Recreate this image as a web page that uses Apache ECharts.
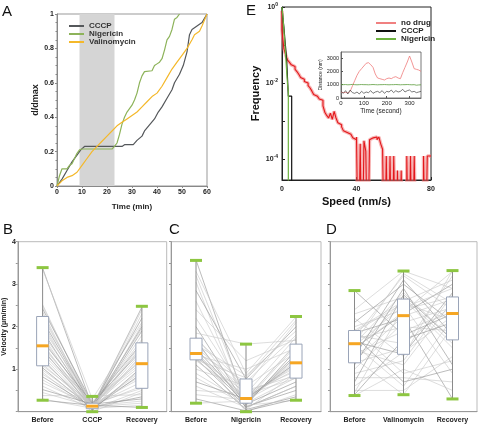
<!DOCTYPE html>
<html><head><meta charset="utf-8">
<script src="https://cdn.jsdelivr.net/npm/echarts@6/dist/echarts.min.js"></script>
<style>html,body{margin:0;padding:0;background:#fff}#c{width:481px;height:426px}</style>
</head><body><div id="c"></div>
<script>
// ---------- Panel A : d/dmax vs time ----------
const aCCCP_t = [0,2,4,6,8,9.5,11,26,27,30.5,32,34,35,37,39,40.5,42,44,46,47,49,50.5,52,53,54,56,58,60];
const aCCCP_d = [0,0.04,0.09,0.14,0.18,0.21,0.23,0.23,0.24,0.24,0.265,0.29,0.32,0.355,0.39,0.43,0.46,0.51,0.56,0.60,0.65,0.70,0.78,0.88,0.91,0.93,0.95,1.0];
const aNig_t = [0,1,2,4,5,6,7,8,9,10,22,23,24,25,26,27,28,30,31,32,33,34,35,38,39,40,41,42,43,44,45,46,47,48,49];
const aNig_d = [0,0.06,0.10,0.10,0.12,0.13,0.16,0.19,0.21,0.215,0.215,0.23,0.25,0.30,0.36,0.40,0.43,0.47,0.50,0.54,0.60,0.64,0.665,0.67,0.70,0.71,0.72,0.74,0.79,0.85,0.87,0.91,0.97,0.98,1.0];
const aVal_t = [0,2,4,6,8,10,12,14,16,18,20,22,24,26,28,30,32,34,36,38,40,42,44,46,48,50,52,54,55,57,58,60];
const aVal_d = [0,0.03,0.05,0.06,0.08,0.12,0.16,0.20,0.23,0.26,0.29,0.32,0.35,0.37,0.39,0.41,0.43,0.46,0.49,0.52,0.54,0.58,0.63,0.68,0.72,0.76,0.80,0.85,0.88,0.90,0.93,1.0];
const aDrugWindow = [9, 23];

// ---------- Panel E : speed histogram ----------
const ZERO_BIN = 1e-7; // empty bin (below log axis)
const eSpeed = [0,1,2,3,4,5,6,7,8,9,10,11,12,13,14,15,16,17,18,19,20,21,22,23,24,25,26,27,28,29,30,31,32,33,34,35,36,37,38,39,40,41,42,43,44,45,46,47,48,49,50,51,52,53,54,55,56,57,58,59,60,61,62,63,64,65,66,67,68,69,70,71,72,73,74,75,76,77,78,79,80];
const eNoDrug = [0.8,0.25,0.08,0.055,0.04,0.035,0.03,0.027,0.023,0.02,
  0.017,0.014,0.0125,0.011,0.01,0.0085,0.0075,0.0062,0.005,0.0045,
  0.004,0.0038,0.0035,0.0025,0.0017,0.0014,0.0012,0.0016,0.0011,0.0018,
  0.0012,0.0009,0.0008,0.0007,0.00055,0.0005,0.00052,0.00045,0.0004,0.00036,
  0.00032,0.00038,ZERO_BIN,0.00025,ZERO_BIN,0.0003,0.00016,ZERO_BIN,0.00032,0.00036,
  0.0004,0.00038,0.00032,0.00038,0.00025,0.00018,ZERO_BIN,0.00012,ZERO_BIN,0.00012,
  ZERO_BIN,0.00012,ZERO_BIN,0.00005,ZERO_BIN,0.00005,ZERO_BIN,ZERO_BIN,0.00012,ZERO_BIN,
  0.00012,ZERO_BIN,0.00012,ZERO_BIN,ZERO_BIN,ZERO_BIN,ZERO_BIN,0.00012,ZERO_BIN,0.00012,0.00012];
const eCCCP_x = [0,0.5,1,1.5,2,2.5,3,3.4,5.2,5.2];
const eCCCP_y = [1,0.5,0.3,0.15,0.08,0.04,0.012,0.0045,0.0045,ZERO_BIN];
const eNig_x = [0,0.5,1,1.5,2,2.5,3,3.4,3.4];
const eNig_y = [1,0.55,0.25,0.12,0.05,0.02,0.009,0.006,ZERO_BIN];

// ---------- Inset : distance vs time ----------
const insetT = [0,10,20,30,40,50,60,70,80,90,100,110,120,130,140,150,160,170,180,190,200,210,220,230,240,250,260,270,280,290,300,310,320,330,340,350];
const insetRed = [450,400,420,380,500,900,1300,1700,2000,2200,2400,2600,2650,2500,2300,1800,1500,1450,1400,1350,1450,1500,1450,1550,1600,1500,1450,1900,2300,2700,3150,2700,2200,2150,2100,2000];
const insetBlack = [500,350,550,300,600,400,350,450,300,500,350,450,400,550,350,450,500,400,550,350,500,450,600,400,550,450,500,650,450,550,600,450,500,400,450,500];
const insetGreen = [1000,1000,1010,990,1000,1020,1000,990,1000,1010,1000,1000,990,1000,1010,1000,990,1000,1000,1010,1000,990,1000,1000,1010,1000,990,1000,1000,1010,1000,990,1000,960,980,990];

// ---------- Panels B, C, D : velocity ----------
const bCats = ['Before','CCCP','Recovery'];
const bBefore = [3.38,3.35,2.52,2.48,2.42,2.35,2.28,2.22,2.15,2.1,2.02,1.95,1.9,1.84,1.78,1.72,1.66,1.6,1.56,1.52,1.47,1.42,1.37,1.3,1.24,1.18,1.12,1.08,1.03,0.98,0.93,0.88,0.82,0.75,0.68,0.6,0.52,0.45,0.38,0.3,0.27];
const bDrug = [0.12,0.3,0.08,0.15,0.2,0.05,0.1,0.18,0.13,0.02,0.14,0.25,0.09,0.16,0.06,0.11,0.2,0.04,0.13,0.17,0.08,0.22,0.14,0.1,0.03,0.15,0.12,0.19,0.07,0.13,0.0,0.16,0.11,0.09,0.14,0.06,0.18,0.12,0.37,0.08,0.15];
const bRecovery = [2.46,2.1,2.4,1.95,1.62,2.3,1.8,1.5,2.2,1.35,1.7,1.2,2.0,1.1,1.55,0.95,1.45,2.05,1.25,0.85,1.9,1.15,0.7,1.6,1.05,0.6,1.4,0.55,0.9,1.3,0.45,0.8,0.35,1.0,0.25,0.5,0.3,0.2,0.4,0.15,0.1];
const bBox = [[0.27,1.08,1.55,2.24,3.39],[0.0,0.07,0.13,0.2,0.36],[0.1,0.55,1.13,1.62,2.48]];

const cCats = ['Before','Nigericin','Recovery'];
const cBefore = [3.57,3.3,3.2,3.05,2.85,2.6,2.4,2.2,2.0,1.85,1.75,1.72,1.68,1.62,1.58,1.52,1.48,1.44,1.4,1.38,1.36,1.33,1.3,1.28,1.25,1.23,1.22,1.2,1.1,1.0,0.9,0.8,0.7,0.6,0.5,0.4,0.3,0.2];
const cDrug = [0.2,0.9,0.3,0.05,0.77,0.25,1.2,0.4,0.15,1.59,0.35,0.6,0.1,0.28,0.85,0.5,0.22,0.0,0.7,0.32,0.18,1.0,0.3,0.45,0.12,0.25,0.8,0.38,0.05,0.6,0.2,0.15,0.3,0.1,0.42,0.28,0.02,0.25];
const cRecovery = [1.3,2.23,1.6,0.9,2.0,1.15,1.7,0.79,1.45,1.68,1.0,2.1,0.6,1.2,1.9,0.85,1.35,0.4,1.8,1.1,0.7,1.5,1.59,0.95,0.5,1.25,2.15,1.05,0.35,1.4,0.8,0.27,1.15,0.6,1.75,0.9,0.3,1.55];
const cBox = [[0.2,1.22,1.37,1.73,3.56],[0.0,0.2,0.31,0.77,1.59],[0.27,0.79,1.15,1.59,2.24]];

const dCats = ['Before','Valinomycin','Recovery'];
const dBefore = [2.85,2.4,2.3,2.2,2.1,2.0,1.95,1.91,1.85,1.8,1.75,1.7,1.65,1.6,1.58,1.55,1.5,1.45,1.4,1.35,1.3,1.25,1.2,1.15,1.1,1.0,0.9,0.8,0.7,0.6,0.5,0.45,0.4,0.38,1.62,1.48,1.78,1.88];
const dDrug = [1.8,3.31,2.7,1.3,3.0,2.4,0.9,2.6,2.2,1.6,3.2,2.0,1.35,2.8,0.6,2.5,2.3,1.1,2.65,1.9,3.1,0.4,2.25,1.5,2.9,2.1,1.2,0.8,2.75,1.4,0.5,2.45,1.7,1.0,3.25,2.35,0.7,2.55];
const dRecovery = [2.3,2.9,1.6,3.32,2.1,2.7,1.2,3.1,0.3,2.5,2.4,1.9,2.8,1.7,2.2,0.9,3.0,2.6,1.5,2.35,1.8,2.0,2.65,3.2,1.1,2.45,2.75,0.7,1.69,2.25,1.3,2.9,2.1,0.5,2.55,3.3,1.0,2.15];
const dBox = [[0.38,1.15,1.6,1.91,2.85],[0.4,1.35,2.26,2.65,3.31],[0.3,1.69,2.31,2.7,3.32]];

// ---------- build ----------
const FONT = "'Liberation Sans', Arial, sans-serif";
const zip = (xs, ys) => xs.map((x, i) => [x, ys[i]]);
const chart = echarts.init(document.getElementById('c'), null, {renderer: 'canvas'});

const tickLbl = {fontFamily: FONT, fontSize: 7, fontWeight: 'bold', color: '#222'};

function boxRender(params, api) {
  const c = api.value(0);
  const pMin = api.coord([c, api.value(1)]);
  const pQ1 = api.coord([c, api.value(2)]);
  const pMed = api.coord([c, api.value(3)]);
  const pQ3 = api.coord([c, api.value(4)]);
  const pMax = api.coord([c, api.value(5)]);
  const hw = 6, x = pMin[0];
  return {type: 'group', children: [
    {type: 'line', shape: {x1: x, y1: pMax[1], x2: x, y2: pMin[1]}, style: {stroke: '#8a8a8a', lineWidth: 1}},
    {type: 'rect', shape: {x: x - hw, y: pQ3[1], width: 2 * hw, height: pQ1[1] - pQ3[1]}, style: {fill: '#fff', stroke: '#9aa4b8', lineWidth: 1}},
    {type: 'rect', shape: {x: x - hw, y: pMed[1] - 1.5, width: 2 * hw, height: 3}, style: {fill: '#f6a623'}},
    {type: 'rect', shape: {x: x - hw, y: pMax[1] - 1.5, width: 2 * hw, height: 3}, style: {fill: '#8dc641'}},
    {type: 'rect', shape: {x: x - hw, y: pMin[1] - 1.5, width: 2 * hw, height: 3}, style: {fill: '#8dc641'}}
  ]};
}

const series = [];
// Panel A
series.push({name: 'CCCP', type: 'line', xAxisIndex: 0, yAxisIndex: 0, data: zip(aCCCP_t, aCCCP_d), symbol: 'none', lineStyle: {color: '#55585b', width: 1.2}, itemStyle: {color: '#55585b'}, z: 3,
  markArea: {silent: true, itemStyle: {color: '#d5d5d5'}, data: [[{xAxis: aDrugWindow[0]}, {xAxis: aDrugWindow[1]}]]}});
series.push({name: 'Nigericin', type: 'line', xAxisIndex: 0, yAxisIndex: 0, data: zip(aNig_t, aNig_d), symbol: 'none', lineStyle: {color: '#8db35a', width: 1.2}, itemStyle: {color: '#8db35a'}, z: 3});
series.push({name: 'Valinomycin', type: 'line', xAxisIndex: 0, yAxisIndex: 0, data: zip(aVal_t, aVal_d), symbol: 'none', lineStyle: {color: '#f4b82a', width: 1.2}, itemStyle: {color: '#f4b82a'}, z: 3});
// Panel E
series.push({name: 'glow', type: 'line', xAxisIndex: 1, yAxisIndex: 1, data: zip(eSpeed, eNoDrug), step: 'start', symbol: 'none', lineStyle: {color: 'rgba(240,120,120,0.55)', width: 3.5}, z: 2});
series.push({name: 'no drug', type: 'line', xAxisIndex: 1, yAxisIndex: 1, data: zip(eSpeed, eNoDrug), step: 'start', symbol: 'none', lineStyle: {color: '#e3181c', width: 1.1}, itemStyle: {color: '#f08080'}, z: 3});
series.push({name: 'CCCP ', type: 'line', xAxisIndex: 1, yAxisIndex: 1, data: zip(eCCCP_x, eCCCP_y), symbol: 'none', lineStyle: {color: '#111', width: 1.2}, itemStyle: {color: '#111'}, z: 4});
series.push({name: 'Nigericin ', type: 'line', xAxisIndex: 1, yAxisIndex: 1, data: zip(eNig_x, eNig_y), symbol: 'none', lineStyle: {color: '#6db33f', width: 1.2}, itemStyle: {color: '#6db33f'}, z: 5});
// Inset
series.push({type: 'line', xAxisIndex: 2, yAxisIndex: 2, data: zip(insetT, insetRed), symbol: 'none', lineStyle: {color: '#ef7b7b', width: 0.8}, z: 6});
series.push({type: 'line', xAxisIndex: 2, yAxisIndex: 2, data: zip(insetT, insetGreen), symbol: 'none', lineStyle: {color: '#5c9c3c', width: 0.8}, z: 6});
series.push({type: 'line', xAxisIndex: 2, yAxisIndex: 2, data: zip(insetT, insetBlack), symbol: 'none', lineStyle: {color: '#444', width: 0.7}, z: 6});

// Panels B, C, D
const panels = [[bBefore, bDrug, bRecovery, bBox], [cBefore, cDrug, cRecovery, cBox], [dBefore, dDrug, dRecovery, dBox]];
panels.forEach((p, k) => {
  const ax = 3 + k;
  p[0].forEach((v, i) => {
    series.push({type: 'line', xAxisIndex: ax, yAxisIndex: ax, data: [v, p[1][i], p[2][i]], symbol: 'none', silent: true,
      lineStyle: {color: i % 4 === 0 ? '#8e8e8e' : '#c6c6c6', width: 0.6}, z: 2});
  });
  series.push({type: 'custom', xAxisIndex: ax, yAxisIndex: ax, renderItem: boxRender, z: 5,
    encode: {x: 0, y: [1, 2, 3, 4, 5]},
    data: p[3].map((s, i) => [i, s[0], s[1], s[2], s[3], s[4]])});
});

const grids = [
  {left: 57, top: 14, width: 150, height: 172, show: true, borderColor: '#999', borderWidth: 1},
  {left: 282, top: 7, width: 149, height: 173, show: true, borderColor: '#222', borderWidth: 1},
  {left: 341, top: 52, width: 80, height: 46, show: true, borderColor: '#555', borderWidth: 0.8, backgroundColor: '#fff'},
  {left: 16.7, top: 241.7, width: 150, height: 170, show: true, borderColor: '#bbb', borderWidth: 1},
  {left: 171, top: 241.7, width: 150, height: 170, show: true, borderColor: '#bbb', borderWidth: 1},
  {left: 330, top: 241.7, width: 147, height: 170, show: true, borderColor: '#bbb', borderWidth: 1}
];

const sup = {b: {fontFamily: FONT, fontSize: 7, fontWeight: 'bold', color: '#222'}, s: {fontFamily: FONT, fontSize: 5, fontWeight: 'bold', color: '#222', padding: [0, 0, 5, 0]}};

const xAxes = [
  {gridIndex: 0, type: 'value', min: 0, max: 60, interval: 10, name: 'Time (min)', nameLocation: 'middle', nameGap: 17,
    nameTextStyle: {fontFamily: FONT, fontSize: 8, fontWeight: 'bold', color: '#222'},
    axisLine: {lineStyle: {color: '#888'}}, axisTick: {length: 2, lineStyle: {color: '#888'}}, splitLine: {show: false},
    axisLabel: Object.assign({margin: 3}, tickLbl)},
  {gridIndex: 1, type: 'value', min: 0, max: 80, interval: 40, name: 'Speed (nm/s)', nameLocation: 'middle', nameGap: 16,
    nameTextStyle: {fontFamily: FONT, fontSize: 11, fontWeight: 'bold', color: '#111'},
    axisLine: {lineStyle: {color: '#222'}}, axisTick: {inside: true, length: 3, lineStyle: {color: '#222'}}, splitLine: {show: false},
    axisLabel: Object.assign({margin: 6}, tickLbl)},
  {gridIndex: 2, type: 'value', min: 0, max: 350, interval: 100, name: 'Time (second)', nameLocation: 'middle', nameGap: 10,
    nameTextStyle: {fontFamily: FONT, fontSize: 6.5, color: '#222'},
    axisLine: {lineStyle: {color: '#555', width: 0.8}}, axisTick: {inside: true, length: 2}, splitLine: {show: false},
    axisLabel: {fontFamily: FONT, fontSize: 6, color: '#222', margin: 2, showMaxLabel: false, formatter: v => String(v)}}
];
const yAxes = [
  {gridIndex: 0, type: 'value', min: 0, max: 1, interval: 0.2, name: 'd/dmax', nameLocation: 'middle', nameGap: 15,
    nameTextStyle: {fontFamily: FONT, fontSize: 9, fontWeight: 'bold', color: '#222'},
    axisLine: {show: true, lineStyle: {color: '#888'}}, axisTick: {show: true, length: 2, lineStyle: {color: '#888'}},
    minorTick: {show: true, splitNumber: 4, length: 1.5, lineStyle: {color: '#888'}}, splitLine: {show: false},
    axisLabel: Object.assign({margin: 3}, tickLbl)},
  {gridIndex: 1, type: 'log', min: 0.000028, max: 1, name: 'Frequency', nameLocation: 'middle', nameGap: 20,
    nameTextStyle: {fontFamily: FONT, fontSize: 11, fontWeight: 'bold', color: '#111'},
    axisLine: {show: true, lineStyle: {color: '#222'}}, axisTick: {show: true, inside: true, length: 3, lineStyle: {color: '#222'}},
    splitLine: {show: false},
    axisLabel: {margin: 4, showMinLabel: false, rich: sup, formatter: v => {
      const e = Math.round(Math.log10(v));
      if (Math.abs(Math.log10(v) - e) > 1e-6 || e % 2 !== 0) return '';
      return '{b|10}{s|' + e + '}';
    }}},
  {gridIndex: 2, type: 'value', min: 0, max: 3450, interval: 1000, name: 'Distance (nm)', nameLocation: 'middle', nameGap: 14,
    nameTextStyle: {fontFamily: FONT, fontSize: 5, color: '#222'},
    axisLine: {show: true, lineStyle: {color: '#555', width: 0.8}}, axisTick: {show: true, inside: true, length: 2}, splitLine: {show: false},
    axisLabel: {fontFamily: FONT, fontSize: 5.5, color: '#222', margin: 2, showMaxLabel: false, formatter: v => String(v)}}
];
[bCats, cCats, dCats].forEach((cats, k) => {
  xAxes.push({gridIndex: 3 + k, type: 'category', data: cats, boundaryGap: true,
    axisLine: {lineStyle: {color: '#999'}}, axisTick: {length: 3, lineStyle: {color: '#999'}},
    axisLabel: Object.assign({margin: 5, interval: 0}, tickLbl)});
  yAxes.push({gridIndex: 3 + k, type: 'value', min: 0, max: 4, interval: 0.5,
    name: k === 0 ? 'Velocity (μm/min)' : '', nameLocation: 'middle', nameGap: 8,
    nameTextStyle: {fontFamily: FONT, fontSize: 7, fontWeight: 'bold', color: '#222'},
    axisLine: {show: true, lineStyle: {color: '#999'}}, axisTick: {show: true, length: 2, lineStyle: {color: '#999'}},
    splitLine: {show: false},
    axisLabel: Object.assign({show: k === 0, margin: 2, formatter: v => (v > 0 && v % 1 === 0) ? String(v) : ''}, tickLbl)});
});

const letter = (t, x, y) => ({type: 'text', left: x, top: y, style: {text: t, fontFamily: FONT, fontSize: 15, fill: '#111'}});

chart.setOption({
  animation: false,
  textStyle: {fontFamily: FONT},
  grid: grids,
  xAxis: xAxes,
  yAxis: yAxes,
  legend: [
    {data: ['CCCP', 'Nigericin', 'Valinomycin'], orient: 'vertical', left: 64, top: 17, itemWidth: 15, itemHeight: 2, itemGap: 0, icon: 'rect',
      textStyle: {fontFamily: FONT, fontSize: 8, fontWeight: 'bold', color: '#333'}},
    {data: ['no drug', 'CCCP ', 'Nigericin '], orient: 'vertical', left: 371, top: 14, itemWidth: 20, itemHeight: 2, itemGap: 0, icon: 'rect',
      formatter: n => n.trim(), textStyle: {fontFamily: FONT, fontSize: 8, fontWeight: 'bold', color: '#222'}}
  ],
  graphic: [letter('A', 2, 4), letter('E', 246, 3), letter('B', 3, 222), letter('C', 169, 222), letter('D', 326, 222)],
  series: series
});
</script></body></html>
